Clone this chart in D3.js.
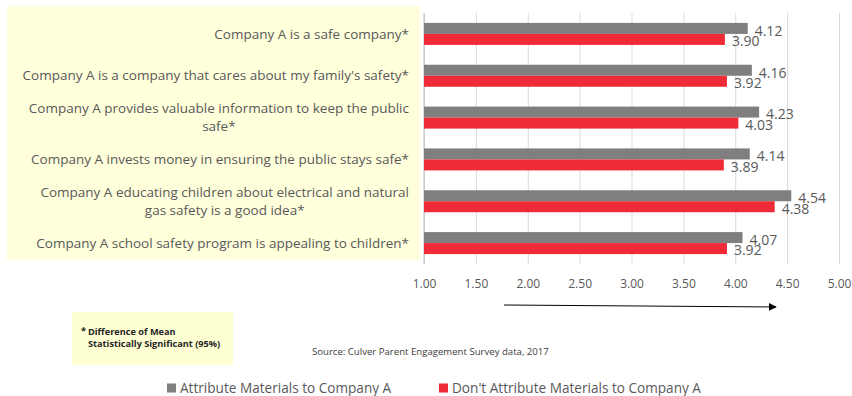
<!DOCTYPE html>
<html>
<head>
<meta charset="utf-8">
<script src="https://cdn.jsdelivr.net/npm/d3@7"></script>
<style>
  html, body { margin: 0; padding: 0; background: #ffffff; }
  svg { display: block; }
  text { font-family: "Open Sans", "Noto Sans", sans-serif; }
</style>
</head>
<body>
<svg id="chart" width="852" height="396"></svg>
<script>
// Survey statements (each may wrap onto a second, centred line)
const categories = [
  ["Company A is a safe company*"],
  ["Company A is a company that cares about my family's safety*"],
  ["Company A provides valuable information to keep the public", "safe*"],
  ["Company A invests money in ensuring the public stays safe*"],
  ["Company A educating children about electrical and natural", "gas safety is a good idea*"],
  ["Company A school safety program is appealing to children*"]
];
const seriesNames = ["Attribute Materials to Company A", "Don't Attribute Materials to Company A"];
const attributeValues = [4.12, 4.16, 4.23, 4.14, 4.54, 4.07];
const dontAttributeValues = [3.90, 3.92, 4.03, 3.89, 4.38, 3.92];
const tickValues = [1.00, 1.50, 2.00, 2.50, 3.00, 3.50, 4.00, 4.50, 5.00];
const footnoteLines = ["Difference of Mean", "Statistically Significant (95%)"];
const sourceNote = "Source: Culver Parent Engagement Survey data, 2017";

const colors = { attr: "#7f7f7f", dont: "#ee2b36" };
const textColor = "#595959";

const svg = d3.select("#chart");

const plot = { left: 424, right: 839, top: 13, bottom: 264 };

const x = d3.scaleLinear().domain([1, 5]).range([plot.left, plot.right]);
const keys = categories.map((c, i) => i);
const y0 = d3.scaleBand().domain(keys).range([plot.top, plot.bottom])
  .paddingInner(0.474).paddingOuter(0.237);
const y1 = d3.scaleBand().domain(["attr", "dont"]).range([0, y0.bandwidth()]);

// Label panel background
svg.append("rect")
  .attr("x", 7).attr("y", 6).attr("width", 413).attr("height", 254)
  .attr("fill", "#ffffdc");

// Vertical gridlines
svg.append("g")
  .attr("transform", `translate(0,${plot.bottom})`)
  .call(d3.axisBottom(x).tickValues(tickValues).tickSize(-(plot.bottom - plot.top)).tickFormat(""))
  .call(g => g.select(".domain").remove())
  .call(g => g.selectAll("line").attr("stroke", "#d9d9d9").attr("stroke-width", 1));

// Category axis line
svg.append("line")
  .attr("x1", x(1)).attr("x2", x(1))
  .attr("y1", plot.top).attr("y2", plot.bottom)
  .attr("stroke", "#bfbfbf");

// Tick labels
svg.append("g")
  .attr("transform", `translate(0,${plot.bottom})`)
  .call(d3.axisBottom(x).tickValues(tickValues).tickSize(0).tickPadding(15).tickFormat(d3.format(".2f")))
  .call(g => g.select(".domain").remove())
  .call(g => g.selectAll("text")
    .attr("fill", textColor)
    .style("font-size", "12px")
    .style("font-family", "'Open Sans', sans-serif"));

// Bars
const rows = keys.map(i => ({ i, attr: attributeValues[i], dont: dontAttributeValues[i] }));
const groups = svg.append("g").selectAll("g").data(rows).join("g")
  .attr("transform", d => `translate(0,${y0(d.i)})`);

groups.selectAll("rect")
  .data(d => [{ k: "attr", v: d.attr }, { k: "dont", v: d.dont }])
  .join("rect")
  .attr("x", x(1))
  .attr("y", d => y1(d.k))
  .attr("width", d => x(d.v) - x(1))
  .attr("height", y1.bandwidth())
  .attr("fill", d => colors[d.k]);

// Value labels
groups.selectAll("text.val")
  .data(d => [{ k: "attr", v: d.attr }, { k: "dont", v: d.dont }])
  .join("text")
  .attr("class", "val")
  .attr("x", d => x(d.v) + 7)
  .attr("y", d => y1(d.k) + y1.bandwidth() / 2 + (d.k === "attr" ? 2.5 : 2))
  .attr("dy", "0.35em")
  .attr("fill", textColor)
  .style("font-size", "14px")
  .text(d => d.v.toFixed(2));

// Category labels, right aligned; wrapped lines centred under the first
const labelRight = 409;
const lineGap = 18;
categories.forEach((lines, i) => {
  const cy = y0(i) + y0.bandwidth() / 2;
  const top = cy - (lines.length - 1) * lineGap / 2;
  const first = svg.append("text")
    .attr("x", labelRight).attr("y", top).attr("dy", "0.35em")
    .attr("text-anchor", "end")
    .attr("fill", textColor)
    .style("font-size", "13.5px")
    .text(lines[0]);
  if (lines.length > 1) {
    const w = first.node().getComputedTextLength();
    const center = labelRight - w / 2;
    lines.slice(1).forEach((ln, j) => {
      svg.append("text")
        .attr("x", center).attr("y", top + lineGap * (j + 1)).attr("dy", "0.35em")
        .attr("text-anchor", "middle")
        .attr("fill", textColor)
        .style("font-size", "13.5px")
        .text(ln);
    });
  }
});

// Direction arrow under the axis
const defs = svg.append("defs");
defs.append("marker")
  .attr("id", "arrowhead")
  .attr("viewBox", "0 0 10 10")
  .attr("refX", 9).attr("refY", 5)
  .attr("markerWidth", 8).attr("markerHeight", 8)
  .attr("markerUnits", "userSpaceOnUse")
  .attr("orient", "auto")
  .append("path").attr("d", "M0,0 L10,5 L0,10 Z").attr("fill", "#000");
svg.append("line")
  .attr("x1", 504).attr("y1", 305).attr("x2", 776).attr("y2", 307)
  .attr("stroke", "#000").attr("stroke-width", 1)
  .attr("marker-end", "url(#arrowhead)");

// Footnote box
svg.append("rect")
  .attr("x", 72).attr("y", 312).attr("width", 161).attr("height", 53)
  .attr("fill", "#ffffd4");
const foot = svg.append("g")
  .attr("fill", "#262626")
  .style("font-size", "9.2px")
  .style("font-weight", "bold");
foot.append("text").attr("x", 81).attr("y", 331).attr("dy", "0.35em").text("*");
footnoteLines.forEach((ln, j) => {
  foot.append("text")
    .attr("x", 88).attr("y", 332 + j * 11.5).attr("dy", "0.35em")
    .text(ln);
});

// Source note
svg.append("text")
  .attr("x", 312).attr("y", 352).attr("dy", "0.35em")
  .attr("fill", "#404040")
  .style("font-size", "9.6px")
  .text(sourceNote);

// Legend
const legendItems = [
  { name: seriesNames[0], color: colors.attr, x: 167 },
  { name: seriesNames[1], color: colors.dont, x: 439 }
];
const legend = svg.append("g").selectAll("g").data(legendItems).join("g")
  .attr("transform", d => `translate(${d.x},388)`);
legend.append("rect")
  .attr("x", 0).attr("y", -4.5).attr("width", 9).attr("height", 9)
  .attr("fill", d => d.color);
legend.append("text")
  .attr("x", 13).attr("y", 0).attr("dy", "0.35em")
  .attr("fill", textColor)
  .style("font-size", "13.6px")
  .text(d => d.name);
</script>
</body>
</html>
